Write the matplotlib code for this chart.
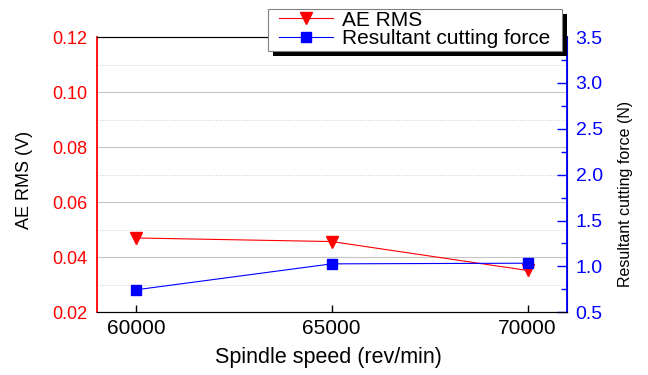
import matplotlib
matplotlib.use("Agg")
import matplotlib.pyplot as plt
from matplotlib.patches import Rectangle
from matplotlib.ticker import MultipleLocator

plt.rcParams['font.family'] = ['Liberation Sans', 'DejaVu Sans']

# spindle speed sweep
speed = [60000, 65000, 70000]
ae_rms = [0.0470, 0.0457, 0.0352]      # V
force = [0.745, 1.028, 1.035]          # N

W, H = 648, 375
fig = plt.figure(figsize=(W / 100, H / 100), dpi=100)
ax = fig.add_axes([0.1492, 0.1672, 0.7253, 0.7341])
ax2 = ax.twinx()

# left axis: AE RMS
l1, = ax.plot(speed, ae_rms, color='red', lw=0.8, marker='v', ms=9,
              label='AE RMS')
ax.set_xlim(59000, 71000)
ax.set_ylim(0.02, 0.12)
ax.yaxis.set_major_locator(MultipleLocator(0.02))
ax.yaxis.set_minor_locator(MultipleLocator(0.01))
ax.set_xticks(speed)
ax.grid(which='major', axis='y', color='#c4c4c4', lw=0.8, ls='-')
ax.grid(which='minor', axis='y', color='#d0d0d0', lw=0.7, ls=':')
ax.tick_params(axis='y', which='both', length=0, colors='red',
               labelsize=13, pad=6.5)
ax.tick_params(axis='x', direction='in', length=5, width=1,
               labelsize=15, pad=5)
ax.spines['left'].set_color('red')
ax.spines['left'].set_linewidth(1.3)
ax.spines['top'].set_color('#333333')
ax.spines['bottom'].set_color('#222222')
ax.set_axisbelow(True)

# right axis: resultant force
l2, = ax2.plot(speed, force, color='blue', lw=0.8, marker='s', ms=7,
               label='Resultant cutting force')
ax2.set_ylim(0.5, 3.5)
ax2.yaxis.set_major_locator(MultipleLocator(0.5))
ax2.yaxis.set_minor_locator(MultipleLocator(0.25))
ax2.tick_params(axis='y', which='major', direction='in', length=7,
                width=1, colors='blue', labelsize=14, pad=6.5)
ax2.tick_params(axis='y', which='minor', direction='in', length=4,
                width=1, colors='blue')
ax2.spines['right'].set_color('blue')
ax2.spines['right'].set_linewidth(1.3)
ax2.spines['left'].set_visible(False)

ax.set_xlabel('Spindle speed (rev/min)', fontsize=15.5)
ax.xaxis.set_label_coords(0.494, -0.125)
ax.set_ylabel('AE RMS (V)', fontsize=13)
ax.yaxis.set_label_coords(-0.135, 0.48)
ax2.set_ylabel('Resultant cutting force (N)', fontsize=11.5)
ax2.yaxis.set_label_coords(1.11, 0.43)

# legend entries without their own frame; box and shadow drawn below
leg = ax2.legend(handles=[l1, l2], loc='upper right',
                 bbox_to_anchor=(550 / W, 1 - 10.5 / H),
                 bbox_transform=fig.transFigure, fontsize=15,
                 frameon=False, handlelength=2.6, handletextpad=0.4,
                 labelspacing=0.0, borderpad=0, borderaxespad=0)
leg.set_zorder(6)

fig.canvas.draw()
bb = leg.get_window_extent()
x0, x1 = bb.x0 - 11, bb.x1 + 11.5
y0, y1 = bb.y0 - 2, H - 8.5
box = Rectangle((x0, y0), x1 - x0, y1 - y0, transform=None,
                facecolor='white', edgecolor='#808080', lw=0.8,
                clip_on=False, zorder=5)
shadow = Rectangle((x0 + 5, y0 - 5), x1 - x0, y1 - y0, transform=None,
                   facecolor='black', edgecolor='none',
                   clip_on=False, zorder=4.9)
ax2.add_patch(shadow)
ax2.add_patch(box)

fig.savefig('out.png', dpi=100)
